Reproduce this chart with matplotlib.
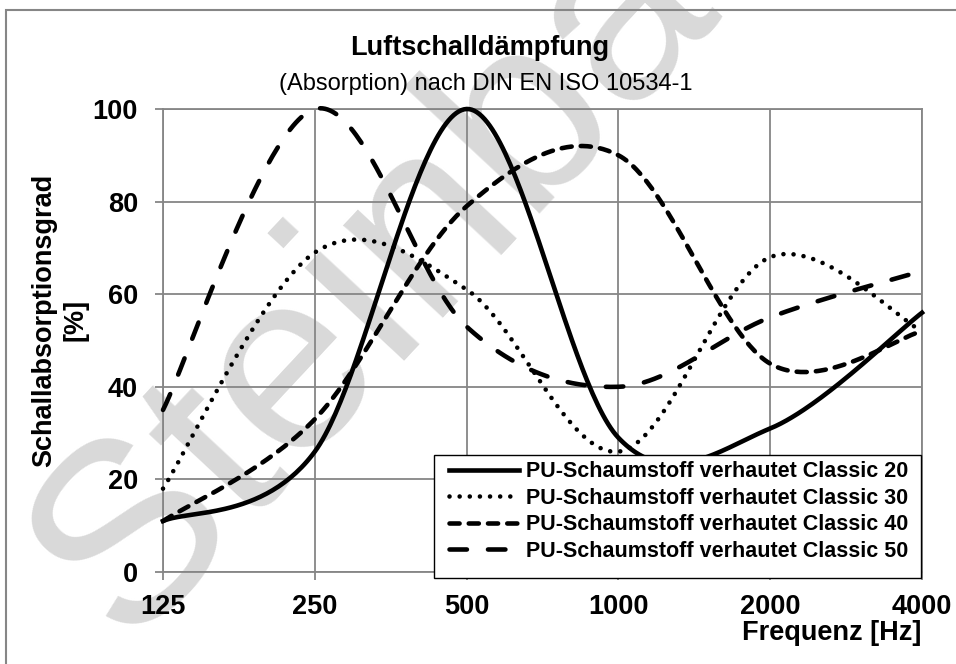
import numpy as np
import matplotlib
matplotlib.use("Agg")
import matplotlib.pyplot as plt
from matplotlib.patches import Rectangle

plt.rcParams['font.family'] = ['Liberation Sans', 'DejaVu Sans']

# data (octave bands)
freqs = ['125', '250', '500', '1000', '2000', '4000']
classic_20 = [11, 26, 100, 29, 31, 56]
classic_30 = [18, 69, 61, 26, 68, 52]
classic_40 = [11, 33, 79, 90, 45, 52]
classic_50 = [35, 100, 53, 40, 55, 65]
labels = ['PU-Schaumstoff verhautet Classic 20',
          'PU-Schaumstoff verhautet Classic 30',
          'PU-Schaumstoff verhautet Classic 40',
          'PU-Schaumstoff verhautet Classic 50']
yticks = [0, 20, 40, 60, 80, 100]


def smooth(x, y, n=60):
    # Excel-like smoothed line: cubic Bezier through the points
    p = np.column_stack([x, y]).astype(float)
    out = []
    t = np.linspace(0, 1, n)[:, None]
    for i in range(len(p) - 1):
        prev = p[i - 1] if i > 0 else p[i]
        nxt = p[i + 2] if i + 2 < len(p) else p[i + 1]
        c1 = p[i] + (p[i + 1] - prev) / 6
        c2 = p[i + 1] - (nxt - p[i]) / 6
        seg = ((1 - t)**3 * p[i] + 3 * (1 - t)**2 * t * c1
               + 3 * (1 - t) * t**2 * c2 + t**3 * p[i + 1])
        out.append(seg if i == 0 else seg[1:])
    out = np.vstack(out)
    return out[:, 0], out[:, 1]


fig = plt.figure(figsize=(9.56, 6.64), dpi=100)
ax = fig.add_axes([163/956, 1-572/664, (922-163)/956, (572-109)/664])
ax.set_facecolor('none')

# watermark
fig.text(467/956, 1-182/664, 'Steinbach', fontsize=185, color='#d9d9d9',
         rotation=47, ha='center', va='center', rotation_mode='anchor',
         zorder=-1)

# outer chart border
fig.patches.append(Rectangle((6/956, -0.1), 1.2, 1-10/664+0.1,
                             transform=fig.transFigure, fill=False,
                             edgecolor='#868686', linewidth=1.5))

x = np.arange(len(freqs))
lw = 3.3
styles = [dict(linestyle='-'),
          dict(linestyle=(0, (0.01, 2.2)), dash_capstyle='round'),
          dict(linestyle=(0, (2.2, 2.0)), dash_capstyle='round'),
          dict(linestyle=(0, (3.8, 4.6)), dash_capstyle='round')]
for vals, lab, st in zip([classic_20, classic_30, classic_40, classic_50], labels, styles):
    xs, ys = smooth(x, vals)
    ax.plot(xs, ys, color='black', linewidth=lw, label=lab, clip_on=False,
            zorder=3, **st)

ax.set_xlim(0, len(freqs) - 1)
ax.set_ylim(0, 100)
ax.set_xticks(x)
ax.set_xticklabels(freqs)
ax.set_yticks(yticks)
ax.grid(True, color='#868686', linewidth=1.3)
ax.set_axisbelow(True)
for s in ax.spines.values():
    s.set_color('#868686')
    s.set_linewidth(1.3)
ax.tick_params(axis='both', colors='#868686', length=6, width=1.3,
               labelsize=19.5, labelcolor='black')
ax.tick_params(axis='x', pad=10)
ax.tick_params(axis='y', pad=12)
for lbl in ax.get_xticklabels() + ax.get_yticklabels():
    lbl.set_fontweight('bold')

fig.text(480/956, 1-48/664, 'Luftschalldämpfung', fontsize=19.5,
         fontweight='bold', ha='center', va='center')
fig.text(486/956, 1-84/664, '(Absorption) nach DIN EN ISO 10534-1',
         fontsize=17, ha='center', va='center')
fig.text(60/956, 1-320/664, 'Schallabsorptionsgrad\n[%]', fontsize=19.5,
         fontweight='bold', rotation=90, ha='center', va='center',
         multialignment='center', linespacing=1.25)
fig.text(921/956, 1-633/664, 'Frequenz [Hz]', fontsize=19.5,
         fontweight='bold', ha='right', va='center')

# legend frame drawn separately (wider side padding than mpl allows)
leg_box = Rectangle((434/956, 1-578/664), (921-434)/956, (578-455)/664,
                    transform=fig.transFigure, facecolor='white',
                    edgecolor='black', linewidth=1.0, zorder=4)
ax.add_patch(leg_box)
leg_box.set_clip_on(False)

leg = ax.legend(loc='lower right', bbox_to_anchor=(908/956, 1-562/664),
                bbox_transform=fig.transFigure, borderaxespad=0,
                prop={'size': 15.5, 'weight': 'bold'}, frameon=False,
                handlelength=3.25, handletextpad=0.33, labelspacing=0.26,
                borderpad=0)
leg.set_zorder(5)

fig.savefig('out.png', dpi=100)
